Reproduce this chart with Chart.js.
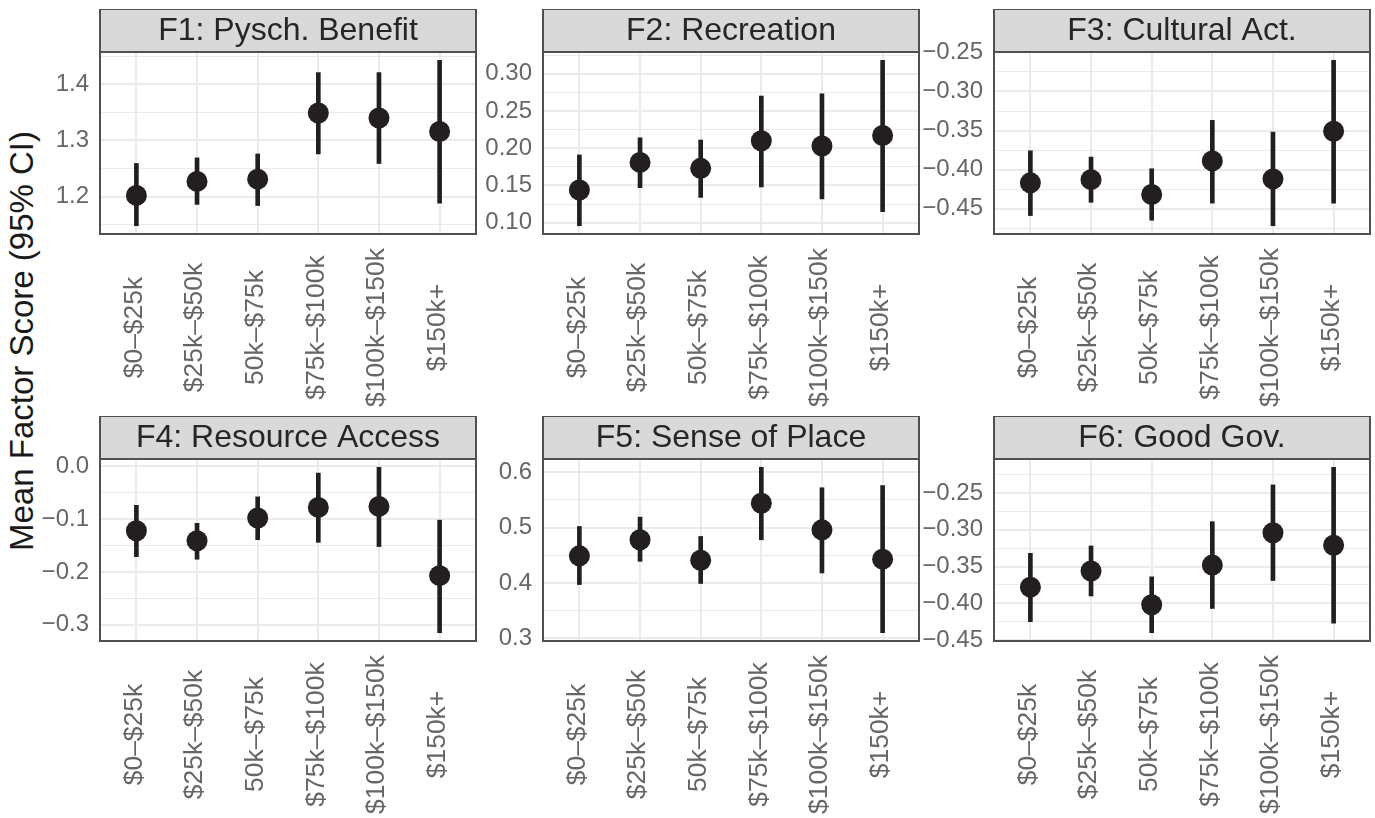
<!DOCTYPE html>
<html>
<head>
<meta charset="utf-8">
<script src="https://cdn.jsdelivr.net/npm/chart.js@4.4.1/dist/chart.umd.min.js"></script>
<style>
  html, body { margin: 0; padding: 0; background: #fff; }
  #wrap { position: relative; width: 1375px; height: 818px; overflow: hidden; }
  #wrap canvas { position: absolute; }
  #ytitle {
    position: absolute; left: 22px; top: 341px;
    transform: translate(-50%, -50%) rotate(-90deg);
    font: 33px "Liberation Sans", Arial, sans-serif;
    color: #1a1a1a; white-space: nowrap;
  }
</style>
</head>
<body>
<div id="wrap">
  <div id="ytitle">Mean Factor Score (95% CI)</div>
</div>
<script>
// categories on the x axis (same in every panel)
var categories = ['$0–$25k', '$25k–$50k', '50k–$75k', '$75k–$100k', '$100k–$150k', '$150k+'];
var factorNames = ['F1: Pysch. Benefit', 'F2: Recreation', 'F3: Cultural Act.',
                   'F4: Resource Access', 'F5: Sense of Place', 'F6: Good Gov.'];

// mean factor score and 95% CI per income group
var f1Mean  = [1.202, 1.227, 1.231, 1.349, 1.340, 1.316];
var f1Lower = [1.148, 1.186, 1.184, 1.276, 1.259, 1.188];
var f1Upper = [1.259, 1.269, 1.276, 1.421, 1.421, 1.443];

var f2Mean  = [0.144, 0.181, 0.173, 0.210, 0.203, 0.217];
var f2Lower = [0.096, 0.147, 0.134, 0.148, 0.132, 0.115];
var f2Upper = [0.191, 0.214, 0.211, 0.270, 0.273, 0.318];

var f3Mean  = [-0.417, -0.413, -0.432, -0.389, -0.412, -0.351];
var f3Lower = [-0.459, -0.442, -0.465, -0.443, -0.472, -0.443];
var f3Upper = [-0.376, -0.384, -0.399, -0.337, -0.352, -0.260];

var f4Mean  = [-0.122, -0.141, -0.098, -0.078, -0.076, -0.207];
var f4Lower = [-0.171, -0.176, -0.139, -0.144, -0.152, -0.315];
var f4Upper = [-0.074, -0.108, -0.058, -0.013, -0.002, -0.102];

var f5Mean  = [0.449, 0.478, 0.441, 0.544, 0.496, 0.443];
var f5Lower = [0.397, 0.439, 0.399, 0.478, 0.418, 0.310];
var f5Upper = [0.502, 0.519, 0.484, 0.609, 0.572, 0.576];

var f6Mean  = [-0.378, -0.356, -0.402, -0.348, -0.304, -0.321];
var f6Lower = [-0.425, -0.390, -0.440, -0.407, -0.369, -0.427];
var f6Upper = [-0.332, -0.322, -0.364, -0.289, -0.239, -0.215];

// y tick values and labels per panel
var f1Ticks = [1.2, 1.3, 1.4];
var f1TickLabels = ['1.2', '1.3', '1.4'];
var f2Ticks = [0.10, 0.15, 0.20, 0.25, 0.30];
var f2TickLabels = ['0.10', '0.15', '0.20', '0.25', '0.30'];
var f3Ticks = [-0.45, -0.40, -0.35, -0.30, -0.25];
var f3TickLabels = ['−0.45', '−0.40', '−0.35', '−0.30', '−0.25'];
var f4Ticks = [-0.3, -0.2, -0.1, 0.0];
var f4TickLabels = ['−0.3', '−0.2', '−0.1', '0.0'];
var f5Ticks = [0.3, 0.4, 0.5, 0.6];
var f5TickLabels = ['0.3', '0.4', '0.5', '0.6'];
var f6Ticks = [-0.45, -0.40, -0.35, -0.30, -0.25];
var f6TickLabels = ['−0.45', '−0.40', '−0.35', '−0.30', '−0.25'];

// layout of the facet grid (page pixels)
var PANEL_LEFT = [100, 543, 994];
var STRIP_TOP = [9, 416];
var CANVAS_H = [405, 402];
var PANEL_W = 376, PANEL_H = 182, STRIP_H = 43, AXIS_W = 90, RIGHT_PAD = 4;

var INK = '#231f20';
var GRID = '#ebebeb';
var BORDER = '#505050';
var STRIP_FILL = '#d9d9d9';
var TICK_TEXT = '#666666';
var FONT = '"Liberation Sans", Arial, sans-serif';

Chart.defaults.font.family = FONT;

// grey strip on top of each panel, panel border and rotated x labels
var facetPlugin = {
  id: 'facet',
  afterDraw: function(chart, args, opts) {
    var a = chart.chartArea, ctx = chart.ctx;
    var w = a.right - a.left;
    ctx.save();
    ctx.fillStyle = STRIP_FILL;
    ctx.fillRect(a.left, a.top - STRIP_H, w, STRIP_H);
    ctx.strokeStyle = BORDER;
    ctx.lineWidth = 2;
    ctx.strokeRect(a.left, a.top - STRIP_H, w, STRIP_H);
    ctx.strokeRect(a.left, a.top, w, a.bottom - a.top);

    ctx.fillStyle = '#262626';
    ctx.font = '32px ' + FONT;
    ctx.textAlign = 'center';
    ctx.textBaseline = 'middle';
    ctx.fillText(opts.text, a.left + w / 2, a.top - STRIP_H / 2 + 1);

    var xs = chart.scales.x;
    ctx.fillStyle = TICK_TEXT;
    ctx.font = '26.5px ' + FONT;
    categories.forEach(function(label, i) {
      ctx.save();
      ctx.translate(xs.getPixelForValue(i) - 2, a.bottom + 93.5);
      ctx.rotate(-Math.PI / 2);
      ctx.fillText(label, 0, 0);
      ctx.restore();
    });
    ctx.restore();
  }
};

var wrap = document.getElementById('wrap');

function makePanel(idx, mean, lower, upper, ticks, tickLabels) {
  var col = idx % 3, row = Math.floor(idx / 3);
  var w = AXIS_W + PANEL_W + RIGHT_PAD, h = CANVAS_H[row];
  var canvas = document.createElement('canvas');
  canvas.width = w; canvas.height = h;
  canvas.style.left = (PANEL_LEFT[col] - AXIS_W) + 'px';
  canvas.style.top = STRIP_TOP[row] + 'px';
  canvas.style.width = w + 'px';
  canvas.style.height = h + 'px';
  wrap.appendChild(canvas);

  // ggplot style 5% expansion of the data range
  var lo = Math.min.apply(null, lower), hi = Math.max.apply(null, upper);
  var pad = (hi - lo) * 0.05;
  var step = ticks[1] - ticks[0];

  function isMajor(v) {
    return ticks.some(function(t) { return Math.abs(t - v) < 1e-9; });
  }

  new Chart(canvas, {
    type: 'scatter',
    data: {
      datasets: [{
        type: 'scatter',
        data: mean.map(function(v, i) { return { x: i, y: v }; }),
        pointRadius: 10.5,
        pointBackgroundColor: INK,
        pointBorderWidth: 0,
        order: 0
      }, {
        type: 'bar',
        data: lower.map(function(v, i) { return { x: i, y: [v, upper[i]] }; }),
        backgroundColor: INK,
        barThickness: 4,
        order: 1
      }]
    },
    options: {
      responsive: false,
      animation: false,
      layout: { autoPadding: false, padding: { top: STRIP_H, left: 0, right: RIGHT_PAD, bottom: 0 } },
      plugins: {
        legend: { display: false },
        tooltip: { enabled: false },
        facet: { text: factorNames[idx] }
      },
      scales: {
        x: {
          type: 'linear',
          min: -0.6,
          max: categories.length - 0.4,
          offset: false,
          afterBuildTicks: function(s) {
            s.ticks = categories.map(function(c, i) { return { value: i }; });
          },
          afterFit: function(s) { s.height = h - STRIP_H - PANEL_H; },
          ticks: { display: false },
          grid: { color: GRID, lineWidth: 2, drawTicks: false, offset: false },
          border: { display: false }
        },
        y: {
          type: 'linear',
          min: lo - pad,
          max: hi + pad,
          afterBuildTicks: function(s) {
            var vals = ticks.slice();
            ticks.forEach(function(t) { vals.push(t - step / 2); });
            vals.push(ticks[ticks.length - 1] + step / 2);
            s.ticks = vals.filter(function(v) { return v >= s.min && v <= s.max; })
              .sort(function(a, b) { return a - b; })
              .map(function(v) { return { value: v }; });
          },
          afterFit: function(s) { s.width = AXIS_W; },
          ticks: {
            autoSkip: false,
            padding: 11,
            color: TICK_TEXT,
            font: { size: 24 },
            callback: function(value) {
              for (var k = 0; k < ticks.length; k++) {
                if (Math.abs(ticks[k] - value) < 1e-9) return tickLabels[k];
              }
              return '';
            }
          },
          grid: {
            color: GRID,
            lineWidth: function(ctx) { return isMajor(ctx.tick.value) ? 2 : 1; },
            drawTicks: false
          },
          border: { display: false }
        }
      }
    },
    plugins: [facetPlugin]
  });
}

makePanel(0, f1Mean, f1Lower, f1Upper, f1Ticks, f1TickLabels);
makePanel(1, f2Mean, f2Lower, f2Upper, f2Ticks, f2TickLabels);
makePanel(2, f3Mean, f3Lower, f3Upper, f3Ticks, f3TickLabels);
makePanel(3, f4Mean, f4Lower, f4Upper, f4Ticks, f4TickLabels);
makePanel(4, f5Mean, f5Lower, f5Upper, f5Ticks, f5TickLabels);
makePanel(5, f6Mean, f6Lower, f6Upper, f6Ticks, f6TickLabels);
</script>
</body>
</html>
